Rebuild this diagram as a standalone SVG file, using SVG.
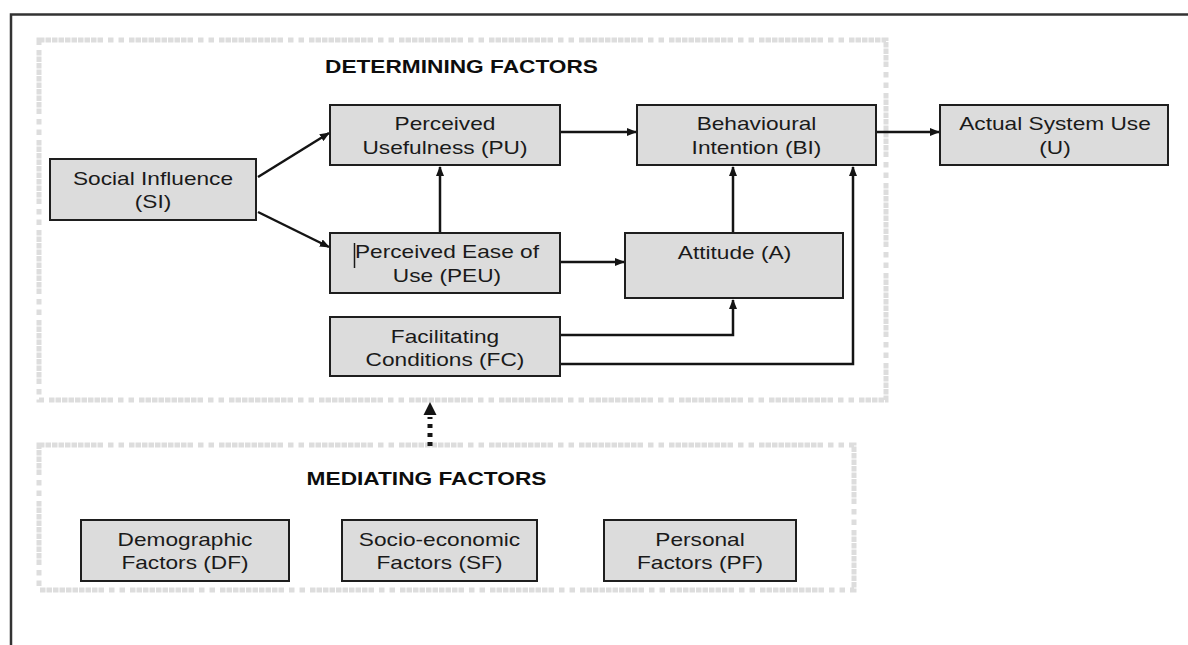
<svg xmlns="http://www.w3.org/2000/svg" width="1188" height="645" viewBox="0 0 1188 645">
  <style>
    .box { fill: #dcdcdc; stroke: #1e1e1e; stroke-width: 2; }
    .lbl { font-family: "Liberation Sans", Arial, sans-serif; font-size: 18px; fill: #1a1a1a; text-anchor: middle; }
    .hdr { font-weight: bold; fill: #0d0d0d; }
    .frame { fill: none; stroke: #dddddd; stroke-width: 5; stroke-dasharray: 5.5 1 5.5 1 5.5 1 5.5 1 5.5 1 5.5 1 5.5 1 5.5 1 5.5 1 5.5 5 5.5 5 5.5 5; }
    .wire { fill: none; stroke: #141414; stroke-width: 2.5; }
    .page { fill: none; stroke: #333333; stroke-width: 2.5; }
  </style>
  <defs>
    <marker id="ah" markerWidth="10" markerHeight="8" refX="9" refY="4" orient="auto" markerUnits="userSpaceOnUse">
      <path d="M0,0 L10,4 L0,8 z" fill="#141414"/>
    </marker>
  </defs>

  <rect width="1188" height="645" fill="#ffffff"/>
  <!-- page edge -->
  <path class="page" d="M11,645 L11,14.5 L1188,14.5"/>

  <!-- grouping frames -->
  <g id="determining-factors">
    <rect class="frame" x="39" y="40" width="847" height="360"/>
    <text class="lbl hdr" transform="translate(461.5,0) scale(1.26,1)" x="0" y="73.5">DETERMINING FACTORS</text>
  </g>
  <g id="mediating-factors">
    <rect class="frame" x="39" y="445" width="815" height="145"/>
    <text class="lbl hdr" transform="translate(426.5,0) scale(1.26,1)" x="0" y="485.5">MEDIATING FACTORS</text>
  </g>

  <!-- connectors -->
  <g id="connectors">
    <path class="wire" d="M258,177 L329,133" marker-end="url(#ah)"/>
    <path class="wire" d="M258,212 L329,247" marker-end="url(#ah)"/>
    <path class="wire" d="M560,132 L636,132" marker-end="url(#ah)"/>
    <path class="wire" d="M876,132 L939,132" marker-end="url(#ah)"/>
    <path class="wire" d="M440,233 L440,167" marker-end="url(#ah)"/>
    <path class="wire" d="M560,262 L624,262" marker-end="url(#ah)"/>
    <path class="wire" d="M733,233 L733,167" marker-end="url(#ah)"/>
    <path class="wire" d="M560,335 L733,335 L733,300" marker-end="url(#ah)"/>
    <path class="wire" d="M560,364 L853,364 L853,167" marker-end="url(#ah)"/>
    <!-- dotted link from mediating to determining factors -->
    <path d="M430,446 L430,417" fill="none" stroke="#141414" stroke-width="5" stroke-dasharray="4 5"/>
    <polygon points="423.5,415 436.5,415 430,402" fill="#141414"/>
  </g>

  <!-- nodes -->
  <g id="node-si">
    <rect class="box" x="50" y="159" width="206" height="61"/>
    <g class="lbl" transform="translate(153,0) scale(1.26,1)">
      <text x="0" y="185.5">Social Influence</text>
      <text x="0" y="208.5">(SI)</text>
    </g>
  </g>
  <g id="node-pu">
    <rect class="box" x="330" y="105" width="230" height="60"/>
    <g class="lbl" transform="translate(445,0) scale(1.26,1)">
      <text x="0" y="130">Perceived</text>
      <text x="0" y="154">Usefulness (PU)</text>
    </g>
  </g>
  <g id="node-bi">
    <rect class="box" x="637" y="105" width="239" height="60"/>
    <g class="lbl" transform="translate(756.5,0) scale(1.26,1)">
      <text x="0" y="130">Behavioural</text>
      <text x="0" y="154">Intention (BI)</text>
    </g>
  </g>
  <g id="node-u">
    <rect class="box" x="940" y="105" width="228" height="60"/>
    <g class="lbl" transform="translate(1055,0) scale(1.26,1)">
      <text x="0" y="130">Actual System Use</text>
      <text x="0" y="154">(U)</text>
    </g>
  </g>
  <g id="node-peu">
    <rect class="box" x="330" y="233" width="230" height="60"/>
    <g class="lbl" transform="translate(447,0) scale(1.26,1)">
      <text x="0" y="258">Perceived Ease of</text>
      <text x="0" y="282">Use (PEU)</text>
    </g>
    <line x1="354.5" y1="243" x2="354.5" y2="268" stroke="#1a1a1a" stroke-width="1.5"/>
  </g>
  <g id="node-a">
    <rect class="box" x="625" y="233" width="218" height="65"/>
    <g class="lbl" transform="translate(734.5,0) scale(1.26,1)">
      <text x="0" y="259">Attitude (A)</text>
    </g>
  </g>
  <g id="node-fc">
    <rect class="box" x="330" y="317" width="230" height="59"/>
    <g class="lbl" transform="translate(445,0) scale(1.26,1)">
      <text x="0" y="343.5">Facilitating</text>
      <text x="0" y="366.5">Conditions (FC)</text>
    </g>
  </g>
  <g id="node-df">
    <rect class="box" x="81" y="520" width="208" height="61"/>
    <g class="lbl" transform="translate(185,0) scale(1.26,1)">
      <text x="0" y="546.5">Demographic</text>
      <text x="0" y="569.5">Factors (DF)</text>
    </g>
  </g>
  <g id="node-sf">
    <rect class="box" x="342" y="520" width="195" height="61"/>
    <g class="lbl" transform="translate(439.5,0) scale(1.26,1)">
      <text x="0" y="546.5">Socio-economic</text>
      <text x="0" y="569.5">Factors (SF)</text>
    </g>
  </g>
  <g id="node-pf">
    <rect class="box" x="604" y="520" width="192" height="61"/>
    <g class="lbl" transform="translate(700,0) scale(1.26,1)">
      <text x="0" y="546.5">Personal</text>
      <text x="0" y="569.5">Factors (PF)</text>
    </g>
  </g>
</svg>
